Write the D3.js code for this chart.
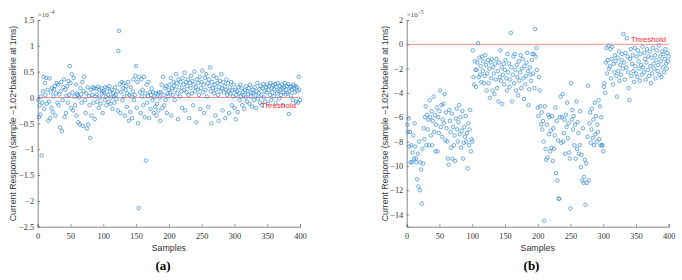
<!DOCTYPE html>
<html><head><meta charset="utf-8">
<script src="https://cdn.jsdelivr.net/npm/d3@7"></script>
<style>body{margin:0;background:#fff}svg{display:block}</style>
</head><body><svg id="c" width="682" height="280"></svg>
<script>
// Panel (a): current response, units of 1e-4, samples 1..400
const valuesA = [
-0.05,-0.38,-0.15,-0.33,0.02,-1.12,-0.10,0.12,0.40,-0.22,
0.28,0.05,0.38,-0.12,0.15,-0.45,-0.08,0.37,-0.40,0.10,
-0.20,0.18,-0.28,0.02,0.16,0.22,-0.35,0.08,0.28,-0.10,
0.25,-0.15,0.06,-0.58,0.12,0.30,-0.65,-0.05,0.20,0.35,
-0.38,0.15,-0.30,0.03,0.22,-0.10,0.32,0.05,0.61,0.28,
-0.20,0.45,0.10,-0.25,0.38,0.02,-0.15,0.25,-0.35,0.08,
0.05,-0.48,0.00,-0.52,0.18,0.06,-0.10,0.30,-0.55,0.12,
0.40,-0.05,-0.30,0.08,-0.60,0.20,-0.52,0.03,-0.15,-0.78,
0.15,-0.35,0.05,0.20,-0.10,0.18,-0.42,0.02,0.17,0.06,
-0.08,0.21,-0.20,0.15,0.00,-0.12,0.18,0.08,-0.30,0.12,
0.10,-0.05,0.20,0.02,-0.15,0.18,0.05,-0.08,0.22,0.12,
-0.12,0.00,0.15,-0.22,0.08,0.03,-0.10,0.20,0.05,-0.03,
0.12,-0.25,0.90,1.29,0.25,-0.30,0.10,0.30,-0.05,0.18,
0.28,0.02,-0.35,0.15,0.22,-0.18,0.08,0.30,-0.45,0.05,
-0.28,0.20,0.02,-0.40,0.12,0.35,-0.05,0.05,0.42,0.61,
-0.20,0.30,-0.50,-2.14,0.40,0.10,-0.30,0.35,0.02,0.15,
-0.15,0.40,-0.38,0.08,-1.22,0.25,-0.10,0.03,0.30,-0.40,
0.10,-0.22,0.05,0.18,-0.05,0.10,-0.30,0.00,-0.18,0.08,
-0.35,-0.12,0.06,-0.25,0.10,0.00,-0.45,0.10,0.25,-0.20,
0.40,0.05,-0.15,0.18,-0.05,0.22,-0.30,0.08,0.02,0.15,
0.25,0.10,0.38,-0.35,0.18,0.05,0.30,0.22,-0.05,0.15,
0.45,0.28,0.08,-0.42,0.35,0.20,0.02,0.30,0.12,-0.20,
0.38,0.25,0.15,0.48,-0.25,0.30,0.10,0.22,0.35,0.05,
-0.40,0.28,0.18,0.42,0.08,0.32,-0.15,0.25,0.50,0.12,
0.20,-0.48,0.35,0.15,0.28,0.05,0.40,-0.22,0.18,0.30,
0.52,0.10,0.25,-0.30,0.38,0.15,0.45,0.02,0.28,-0.18,
0.35,0.22,0.58,0.12,-0.50,0.30,0.18,0.42,0.08,0.25,
-0.35,0.15,0.38,0.28,0.05,-0.45,0.20,0.32,0.12,0.45,
0.18,-0.25,0.30,0.10,0.22,-0.40,0.15,0.35,0.05,0.28,
0.12,-0.30,0.20,0.08,0.30,-0.15,0.14,0.02,0.25,-0.20,
0.15,-0.42,0.05,0.12,-0.28,0.20,0.08,-0.05,0.25,0.02,
0.18,-0.15,0.10,0.05,-0.22,0.14,0.00,0.22,-0.08,0.12,
0.06,0.18,-0.12,0.25,0.02,0.10,-0.18,0.15,0.08,-0.05,
0.20,0.04,-0.20,0.12,0.28,-0.02,0.08,0.16,-0.10,0.22,
0.05,-0.15,0.18,0.26,0.00,0.12,-0.08,0.20,0.10,0.25,
-0.12,0.15,0.22,0.05,0.28,-0.05,0.18,0.10,0.24,0.02,
0.16,0.26,-0.10,0.20,0.08,0.28,0.12,-0.02,0.22,0.15,
0.05,0.25,0.18,-0.15,0.10,0.20,0.28,0.06,0.15,0.22,
0.08,0.26,-0.32,0.12,0.20,0.04,0.22,0.15,-0.05,0.25,
0.18,0.10,0.22,-0.08,0.20,0.12,-0.10,0.40,0.15,-0.05
];
// Panel (b): current response, units of 1e-5, samples 1..400
const valuesB = [
-6.6,-7.2,-6.1,-8.4,-7.2,-9.7,-8.3,-9.7,-8.9,-7.5,
-9.4,-6.5,-8.4,-9.4,-9.7,-11.1,-9.0,-11.7,-8.0,-12.0,
-9.7,-10.3,-13.1,-8.6,-9.8,-6.9,-7.8,-6.0,-5.1,-8.3,
-5.8,-7.0,-6.2,-8.3,-4.6,-6.0,-7.5,-5.5,-8.3,-6.3,
-4.3,-7.2,-5.8,-8.8,-6.6,-5.2,-8.8,-6.0,-7.3,-5.5,
-3.8,-6.8,-5.0,-7.6,-6.2,-4.9,-6.5,-4.1,-7.9,-5.6,
-6.9,-8.0,-9.4,-9.9,-5.4,-6.3,-7.2,-8.5,-5.7,-9.4,
-6.8,-8.3,-7.5,-9.6,-6.1,-5.3,-7.0,-8.0,-6.4,-5.0,
-7.4,-6.0,-8.5,-7.1,-5.5,-9.4,-8.1,-6.8,-7.6,-5.9,
-8.0,-7.3,-10.2,-6.5,-8.3,-7.0,-5.4,-8.8,-7.8,-8.0,
-0.5,-2.7,-3.3,-1.4,-2.1,-3.5,-2.1,-1.5,0.1,-2.7,
-1.1,-2.5,-1.8,-3.1,-1.0,-2.2,-1.4,-3.2,-2.6,-0.9,
-1.7,-3.8,-2.4,-1.3,-3.2,-2.0,-4.4,-1.5,-2.8,-1.2,
-3.8,-1.9,-2.4,-4.1,-1.6,-2.9,-1.2,-3.6,-2.2,-4.7,
-1.5,-2.7,-0.5,-3.0,-1.9,-4.9,-2.5,-1.6,-3.3,-2.1,
-1.3,-2.8,-3.8,-0.8,-2.3,-1.6,-3.5,-2.9,0.95,-1.9,
-4.7,-2.5,-1.0,-3.2,-0.8,-2.1,-3.8,-1.7,-2.7,-4.2,
-1.4,-3.0,-2.3,-0.9,-3.6,-2.0,-1.2,-2.8,-4.5,-1.8,
-3.3,-2.6,-1.5,-0.7,-2.2,-5.0,-3.7,-1.9,-2.5,-3.0,
-1.3,-0.8,-2.4,-0.8,-3.6,1.26,-1.0,-0.3,-2.1,-5.2,
-5.9,-2.7,-3.8,-5.1,-6.6,-5.6,-7.0,-6.3,-8.0,-14.5,
-5.1,-8.6,-9.5,-6.6,-9.3,-5.8,-7.4,-6.0,-8.8,-7.1,
-8.5,-5.9,-9.6,-6.9,-8.6,-7.5,-5.2,-10.6,-6.3,-11.2,
-7.9,-12.7,-12.7,-6.0,-4.3,-8.1,-6.0,-4.1,-8.0,-7.3,
-6.2,-9.0,-5.8,-6.8,-4.8,-7.7,-6.5,-8.9,-9.4,-13.5,
-3.2,-6.2,-5.4,-7.0,-5.9,-8.3,-6.6,-9.4,-4.7,-8.6,
-6.4,-7.3,-9.0,-8.3,-5.5,-10.1,-9.1,-11.2,-6.9,-11.4,
-10.9,-9.5,-13.2,-9.8,-11.4,-7.6,-3.4,-11.2,-6.5,-5.6,
-8.1,-7.0,-5.3,-7.7,-6.2,-8.3,-4.8,-7.4,-5.9,-8.0,
-6.6,-7.2,-4.6,-7.8,-5.1,-8.3,-6.0,-8.3,-8.3,-8.8,
-3.5,-3.2,-4.0,-1.5,-0.3,-2.4,-1.3,-0.1,-2.0,-1.8,
-0.4,-2.8,-1.2,-0.2,-3.3,-1.6,-2.3,-0.9,-1.4,-2.6,
-4.3,-1.1,-2.2,-0.6,-3.0,-1.7,-2.5,-1.3,-0.8,-2.0,
0.85,-1.5,-2.9,-0.7,-1.9,0.5,-1.0,-2.3,-3.6,-4.6,
-1.2,-0.4,-2.6,-1.6,-0.9,-2.2,-3.1,-0.3,-1.8,-2.4,
-1.0,-2.7,-0.5,-1.4,-2.0,-3.0,-0.8,-1.7,-2.5,-0.2,
-1.9,-2.3,-0.7,-1.2,-2.9,-1.5,-0.4,-2.1,-1.0,-2.6,
-0.6,-1.8,-3.2,-1.1,-2.4,-0.3,-1.6,-2.0,-0.9,-2.8,
-1.3,-0.5,-2.2,-1.7,-0.1,-2.5,-1.0,-1.4,-2.7,-0.6,
-1.9,-0.8,-2.3,-1.2,-0.4,-1.6,-2.0,-0.7,-1.4,-1.0
];
const xTicks = [0,50,100,150,200,250,300,350,400];
const yTicksA = [-2.5,-2,-1.5,-1,-0.5,0,0.5,1,1.5];
const yTicksB = [-14,-12,-10,-8,-6,-4,-2,0,2];
const yDomainA = [-2.5,1.5];
const yDomainB = [-15,2];
const thresholdValue = 0;
const exponentA = "−4", exponentB = "−5";
const yLabelText = "Current Response (sample −1.02*baseline at 1ms)";
const xLabelText = "Samples";
const thresholdText = "Threshold";

const svg = d3.select("#c");
const fmt = d => (d < 0 ? "−" : "") + Math.abs(d);
const serif = "'Liberation Serif','DejaVu Serif',serif";
const sans = "'Liberation Sans',Arial,sans-serif";

function panel(cfg) {
  const x = d3.scaleLinear().domain([0,400]).range([cfg.left, cfg.right]);
  const y = d3.scaleLinear().domain(cfg.yDomain).range([226.7, 20]);
  const g = svg.append("g");

  // threshold line
  g.append("line")
    .attr("x1", x(0)).attr("x2", x(400))
    .attr("y1", y(thresholdValue)).attr("y2", y(thresholdValue))
    .attr("stroke", "#ff8c8c").attr("stroke-width", 1);

  // points
  g.append("g").selectAll("circle").data(cfg.values).join("circle")
    .attr("cx", (d,i) => x(i+1)).attr("cy", d => y(d)).attr("r", 1.75)
    .attr("fill", "none").attr("stroke", "#2f8ad2").attr("stroke-width", 0.7);

  // axes
  const ax = g.append("g").attr("transform", `translate(0,${y(cfg.yDomain[0])})`)
    .call(d3.axisBottom(x).tickValues(xTicks).tickSize(-2.5).tickPadding(5).tickFormat(fmt));
  const ay = g.append("g").attr("transform", `translate(${x(0)},0)`)
    .call(d3.axisLeft(y).tickValues(cfg.yTicks).tickSize(-2.5).tickPadding(3.5).tickFormat(fmt));
  [ax, ay].forEach(a => {
    a.select(".domain").attr("stroke", "#666").attr("stroke-width", 0.8);
    a.selectAll(".tick line").attr("stroke", "#666").attr("stroke-width", 0.7);
    a.selectAll(".tick text").attr("fill", "#333").style("font-family", serif).style("font-size", "8.3px");
  });
  ax.selectAll(".tick text").attr("dy", "0.9em");

  // exponent
  const ex = g.append("text").attr("x", x(0)).attr("y", 17)
    .style("font-family", serif).style("font-size", "7px").attr("fill", "#444");
  ex.append("tspan").text("×10");
  ex.append("tspan").attr("dy", -3).style("font-size", "5.5px").text(cfg.exponent);

  // threshold text
  g.append("text").attr("x", x(cfg.thX)).attr("y", y(thresholdValue) + cfg.thDy)
    .attr("fill", "#ff2a2a").style("font-family", sans).style("font-size", "8px")
    .text(thresholdText);

  // labels
  g.append("text").attr("transform", `translate(${cfg.yLabelX},123.5) rotate(-90)`)
    .attr("text-anchor", "middle").attr("fill", "#333")
    .style("font-family", sans).style("font-size", "8.7px").text(yLabelText);
  g.append("text").attr("x", (cfg.left + cfg.right)/2).attr("y", 250.5)
    .attr("text-anchor", "middle").attr("fill", "#333")
    .style("font-family", sans).style("font-size", "8.8px").text(xLabelText);
  g.append("text").attr("x", cfg.capX).attr("y", 269.5)
    .attr("text-anchor", "middle").attr("fill", "#000")
    .style("font-family", serif).style("font-size", "13px").style("font-weight", "bold")
    .text(cfg.caption);
}

panel({left: 37.7, right: 300, yDomain: yDomainA, yTicks: yTicksA, values: valuesA,
  exponent: exponentA, thX: 340, thDy: 10, yLabelX: 16, capX: 163, caption: "(a)"});
panel({left: 406.7, right: 668.7, yDomain: yDomainB, yTicks: yTicksB, values: valuesB,
  exponent: exponentB, thX: 342, thDy: -2.5, yLabelX: 387.5, capX: 531.5, caption: "(b)"});
</script>
</body></html>
